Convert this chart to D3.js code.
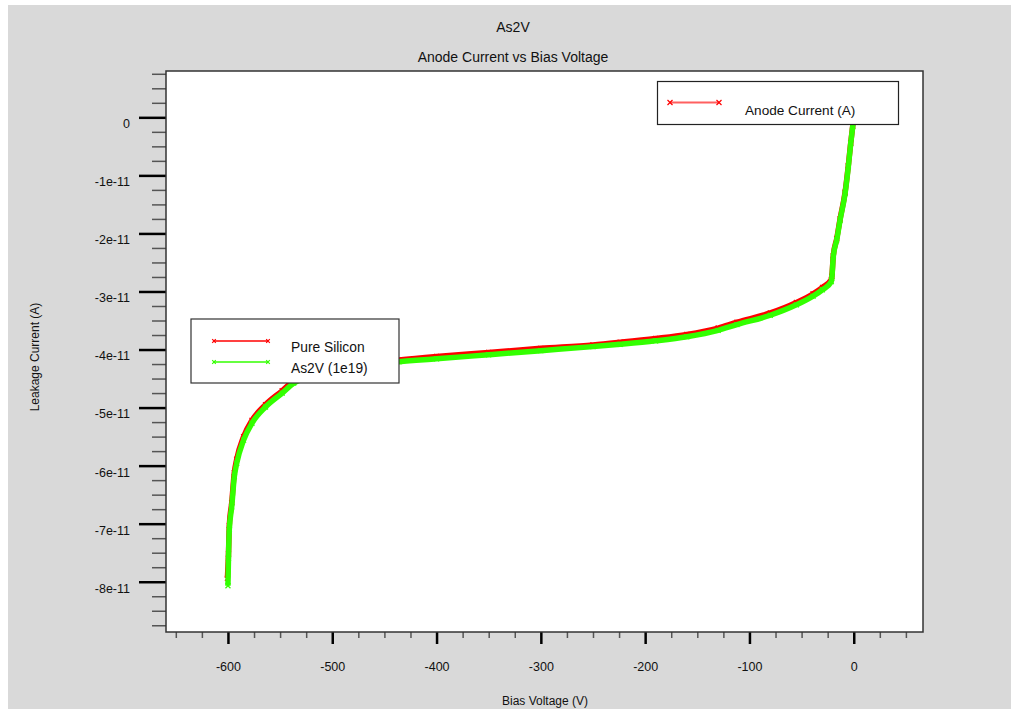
<!DOCTYPE html>
<html>
<head>
<meta charset="utf-8">
<script src="https://cdn.jsdelivr.net/npm/d3@7"></script>
<style>
  html, body { margin: 0; padding: 0; background: #ffffff; }
  svg { display: block; font-family: "Liberation Sans", Arial, Helvetica, sans-serif; }
</style>
</head>
<body>
<svg id="chart" width="1011" height="709"></svg>
<script>
// Bias voltage (V) and anode leakage current (A) for the two devices
const pureSiliconV = [-600.5, -599.5, -598.7, -596.4, -593.9, -591.6, -585, -577, -564, -548, -537, -520, -500, -470, -436, -400, -350, -300, -250, -224, -190, -160, -130, -112, -80, -55, -39, -30, -21.5, -21, -19.6, -16.3, -13.1, -8.3, -5.2, -2.9, -1, 0];
const pureSiliconI = [-7.94e-11, -7.52e-11, -7.03e-11, -6.64e-11, -6.12e-11, -5.89e-11, -5.50e-11, -5.22e-11, -4.95e-11, -4.71e-11, -4.54e-11, -4.41e-11, -4.33e-11, -4.25e-11, -4.18e-11, -4.12e-11, -4.05e-11, -3.98e-11, -3.92e-11, -3.875e-11, -3.81e-11, -3.74e-11, -3.63e-11, -3.53e-11, -3.37e-11, -3.19e-11, -3.04e-11, -2.93e-11, -2.79e-11, -2.74e-11, -2.38e-11, -2.09e-11, -1.75e-11, -1.29e-11, -0.83e-11, -0.44e-11, -0.15e-11, 0];

const as2vV = [-600, -599.5, -598.7, -596.4, -593.9, -591.6, -585, -577, -564, -548, -537, -520, -500, -470, -436, -400, -350, -300, -250, -224, -190, -160, -130, -112, -80, -55, -39, -30, -21.5, -21, -19.6, -16.3, -13.1, -8.3, -5.2, -2.9, -1, 0];
const as2vI = [-8.07e-11, -7.60e-11, -7.10e-11, -6.71e-11, -6.19e-11, -5.96e-11, -5.56e-11, -5.27e-11, -4.99e-11, -4.75e-11, -4.58e-11, -4.45e-11, -4.37e-11, -4.29e-11, -4.21e-11, -4.16e-11, -4.09e-11, -4.02e-11, -3.95e-11, -3.91e-11, -3.85e-11, -3.78e-11, -3.67e-11, -3.57e-11, -3.41e-11, -3.23e-11, -3.08e-11, -2.97e-11, -2.83e-11, -2.77e-11, -2.40e-11, -2.11e-11, -1.77e-11, -1.31e-11, -0.85e-11, -0.45e-11, -0.16e-11, 0];

const seriesNames = ["Pure Silicon", "As2V (1e19)"];
const seriesColors = ["#ff0000", "#33ff00"];

const xMajorTicks = [-600, -500, -400, -300, -200, -100, 0];
const xTickLabels = ["-600", "-500", "-400", "-300", "-200", "-100", "0"];
const yMajorTicks = [0, -1e-11, -2e-11, -3e-11, -4e-11, -5e-11, -6e-11, -7e-11, -8e-11];
const yTickLabels = ["0", "-1e-11", "-2e-11", "-3e-11", "-4e-11", "-5e-11", "-6e-11", "-7e-11", "-8e-11"];

const chartTitle = "As2V";
const chartSubtitle = "Anode Current vs Bias Voltage";
const xTitle = "Bias Voltage (V)";
const yTitle = "Leakage Current (A)";
const topLegendLabel = "Anode Current (A)";

const svg = d3.select("#chart");

// panel background
svg.append("rect").attr("x", 8).attr("y", 5).attr("width", 1003).attr("height", 704).attr("fill", "#d9d9d9");

const frame = { left: 166, right: 923, top: 71, bottom: 632 };

const x = d3.scaleLinear().domain([-659.4, 66.4]).range([frame.left, frame.right]);
const y = d3.scaleLinear().domain([-8.866e-11, 0.798e-11]).range([frame.bottom, frame.top]);

// plotting area
svg.append("rect")
  .attr("x", frame.left).attr("y", frame.top)
  .attr("width", frame.right - frame.left).attr("height", frame.bottom - frame.top)
  .attr("fill", "#ffffff");

// minor tick positions between the labelled ones
const xMinor = d3.range(-650, 51, 25).filter(v => v % 100 !== 0);
const yMinor = d3.range(-35, 4).map(k => k * 0.25e-11).filter((v, i) => (i + 1) % 4 !== 0);

const gx = svg.append("g").attr("transform", `translate(0,${frame.bottom})`);
gx.append("g").call(d3.axisBottom(x).tickValues(xMinor).tickSizeInner(6).tickSizeOuter(0).tickFormat(""))
  .call(g => g.select(".domain").remove())
  .call(g => g.selectAll("line").attr("stroke", "#555").attr("stroke-width", 1.5));
gx.append("g").call(d3.axisBottom(x).tickValues(xMajorTicks).tickSizeInner(12).tickSizeOuter(0)
    .tickFormat((d, i) => xTickLabels[i]))
  .call(g => g.select(".domain").remove())
  .call(g => g.selectAll("line").attr("stroke", "#000").attr("stroke-width", 2.5))
  .call(g => g.selectAll("text").attr("y", 35).attr("dy", "0.35em")
    .attr("font-size", 12.5).attr("fill", "#111").attr("font-family", "Liberation Sans, Arial, sans-serif"));

const gy = svg.append("g").attr("transform", `translate(${frame.left},0)`);
gy.append("g").call(d3.axisLeft(y).tickValues(yMinor).tickSizeInner(14).tickSizeOuter(0).tickFormat(""))
  .call(g => g.select(".domain").remove())
  .call(g => g.selectAll("line").attr("stroke", "#555").attr("stroke-width", 1.5));
gy.append("g").call(d3.axisLeft(y).tickValues(yMajorTicks).tickSizeInner(27).tickSizeOuter(0)
    .tickFormat((d, i) => yTickLabels[i]))
  .call(g => g.select(".domain").remove())
  .call(g => g.selectAll("line").attr("stroke", "#000").attr("stroke-width", 2.5))
  .call(g => g.selectAll("text").attr("x", -36).attr("y", 6).attr("dy", "0.35em")
    .attr("font-size", 12.5).attr("fill", "#111").attr("font-family", "Liberation Sans, Arial, sans-serif"));

// frame border
svg.append("rect")
  .attr("x", frame.left).attr("y", frame.top)
  .attr("width", frame.right - frame.left).attr("height", frame.bottom - frame.top)
  .attr("fill", "none").attr("stroke", "#333").attr("stroke-width", 1.5);

// curves
const line = d3.line().x(d => x(d[0])).y(d => y(d[1])).curve(d3.curveMonotoneX);
const series = [
  d3.zip(pureSiliconV, pureSiliconI),
  d3.zip(as2vV, as2vI)
];
const plot = svg.append("g");
series.forEach((pts, i) => {
  plot.append("path").datum(pts).attr("d", line)
    .attr("fill", "none").attr("stroke", seriesColors[i]).attr("stroke-width", 5.5)
    .attr("stroke-linejoin", "round");
  plot.selectAll(null).data(pts).join("path")
    .attr("transform", d => `translate(${x(d[0])},${y(d[1])})`)
    .attr("d", "M-2.5,-2.5L2.5,2.5M-2.5,2.5L2.5,-2.5")
    .attr("stroke", seriesColors[i]).attr("stroke-width", 1.2);
});

function cross(g, cx, cy, color, r) {
  g.append("path").attr("transform", `translate(${cx},${cy})`)
    .attr("d", `M${-r},${-r}L${r},${r}M${-r},${r}L${r},${-r}`)
    .attr("stroke", color).attr("stroke-width", 1.2);
}

// top-right legend
const lg1 = svg.append("g");
lg1.append("rect").attr("x", 657.5).attr("y", 81.5).attr("width", 241).attr("height", 43)
  .attr("fill", "#fff").attr("stroke", "#222").attr("stroke-width", 1.2);
lg1.append("line").attr("x1", 670).attr("x2", 719).attr("y1", 102.5).attr("y2", 102.5)
  .attr("stroke", "#ff6060").attr("stroke-width", 2);
cross(lg1, 670, 102.5, "#ff0000", 2.5);
cross(lg1, 719, 102.5, "#ff0000", 2.5);
lg1.append("text").attr("x", 745).attr("y", 110).attr("dy", "0.35em")
  .attr("font-size", 13.6).attr("fill", "#111").text(topLegendLabel);

// series legend
const lg2 = svg.append("g");
lg2.append("rect").attr("x", 191).attr("y", 319).attr("width", 208).attr("height", 64)
  .attr("fill", "#fff").attr("stroke", "#333").attr("stroke-width", 1.2);
[341, 362].forEach((ly, i) => {
  lg2.append("line").attr("x1", 214).attr("x2", 268).attr("y1", ly).attr("y2", ly)
    .attr("stroke", seriesColors[i]).attr("stroke-width", 1.5);
  cross(lg2, 214, ly, seriesColors[i], 1.8);
  cross(lg2, 268, ly, seriesColors[i], 1.8);
  lg2.append("text").attr("x", 291).attr("y", ly + 6).attr("dy", "0.35em")
    .attr("font-size", 13.8).attr("fill", "#111").text(seriesNames[i]);
});

// titles
svg.append("text").attr("x", 513).attr("y", 27).attr("dy", "0.35em").attr("text-anchor", "middle")
  .attr("font-size", 14).attr("fill", "#111").text(chartTitle);
svg.append("text").attr("x", 513).attr("y", 57).attr("dy", "0.35em").attr("text-anchor", "middle")
  .attr("font-size", 14).attr("fill", "#111").text(chartSubtitle);
svg.append("text").attr("x", 545).attr("y", 701).attr("dy", "0.35em").attr("text-anchor", "middle")
  .attr("font-size", 12).attr("fill", "#111").text(xTitle);
svg.append("text").attr("transform", "translate(35,357) rotate(-90)").attr("dy", "0.35em")
  .attr("text-anchor", "middle").attr("font-size", 12).attr("fill", "#111").text(yTitle);
</script>
</body>
</html>
